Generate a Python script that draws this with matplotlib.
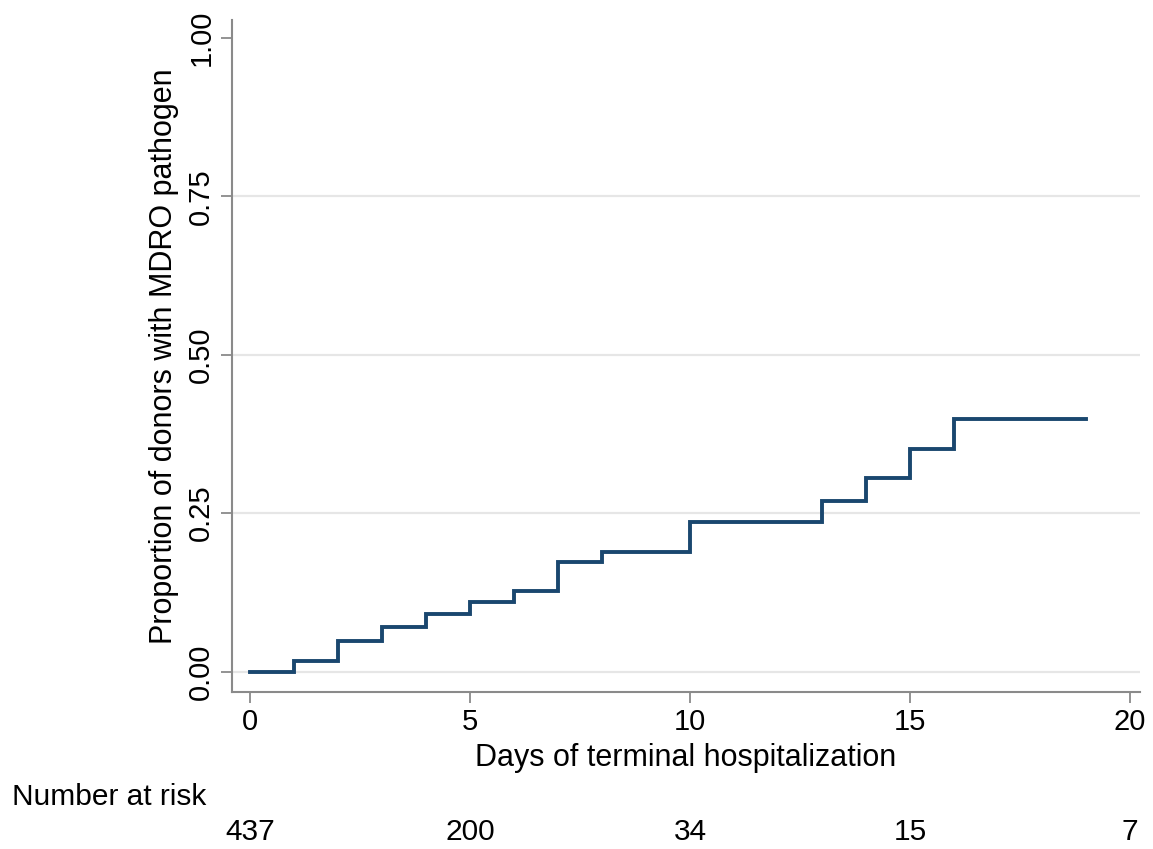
import matplotlib.pyplot as plt

plt.rcParams["font.family"] = ["Liberation Sans", "DejaVu Sans"]

days = [0, 1, 2, 3, 4, 5, 6, 7, 8, 10, 13, 14, 15, 16, 19]

proportion = [
    0.000, 0.017, 0.049, 0.070, 0.091, 0.110, 0.127,
    0.173, 0.189, 0.236, 0.270, 0.306, 0.351, 0.398, 0.398
]

risk_days = [0, 5, 10, 15, 20]

at_risk = [437, 200, 34, 15, 7]

y_ticks = [0.0, 0.25, 0.5, 0.75, 1.0]

y_labels = ["0.00", "0.25", "0.50", "0.75", "1.00"]

x_ticks = [0, 5, 10, 15, 20]

axis_color = "#8a8a8a"

fig = plt.figure(figsize=(11.53, 8.49), dpi=100)

ax = fig.add_axes([0.2012, 0.1853, 0.7875, 0.7911])

for g in y_ticks[:-1]:
    ax.axhline(g, color="#e6e6e6", linewidth=1.6, zorder=0)

ax.step(
    days,
    proportion,
    where="post",
    color="#1a476f",
    linewidth=2.8,
    solid_joinstyle="miter",
    zorder=3
)

ax.set_xlim(-0.41, 20.23)
ax.set_ylim(-0.0316, 1.028)

ax.set_xticks(x_ticks)
ax.set_yticks(y_ticks)
ax.set_yticklabels(y_labels, rotation=90, va="center")

for side in ["top", "right"]:
    ax.spines[side].set_visible(False)

for side in ["left", "bottom"]:
    ax.spines[side].set_color(axis_color)
    ax.spines[side].set_linewidth(1.5)

ax.tick_params(
    axis="both",
    direction="out",
    color=axis_color,
    width=1.3,
    length=8,
    labelsize=21,
    pad=4
)

ax.set_xlabel("Days of terminal hospitalization", fontsize=22, labelpad=5)
ax.set_ylabel("Proportion of donors with MDRO pathogen", fontsize=22, labelpad=6)

fig.text(
    12 / 1153,
    1 - 797 / 849,
    "Number at risk",
    fontsize=21.5,
    va="center",
    ha="left"
)

for d, n in zip(risk_days, at_risk):
    x_fig = fig.transFigure.inverted().transform(
        ax.transData.transform((d, 0))
    )[0]
    fig.text(
        x_fig,
        1 - 832 / 849,
        str(n),
        fontsize=21.5,
        va="center",
        ha="center"
    )

fig.savefig("out.png", dpi=100)
